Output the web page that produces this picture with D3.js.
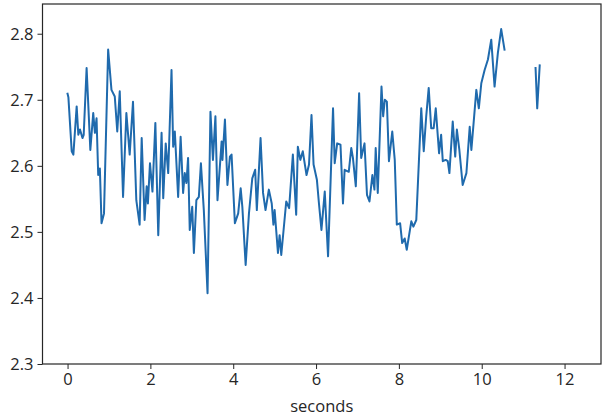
<!DOCTYPE html>
<html><head><meta charset="utf-8">
<script src="https://cdn.jsdelivr.net/npm/d3@7"></script>
<style>
html,body{margin:0;padding:0;background:#fff;}
text{font-family:"Open Sans",sans-serif;fill:#262626;}
</style></head>
<body><svg id="c" width="608" height="420"></svg>
<script>
// time in seconds
const seconds = [0.00,0.02,0.10,0.14,0.22,0.26,0.30,0.36,0.39,0.46,0.55,0.62,0.66,0.70,0.74,0.78,0.82,0.88,0.98,1.06,1.14,1.20,1.26,1.34,1.42,1.50,1.58,1.66,1.74,1.79,1.86,1.91,1.94,1.99,2.05,2.12,2.19,2.27,2.31,2.37,2.43,
2.51,2.55,2.59,2.67,2.73,2.79,2.83,2.87,2.91,2.95,3.01,3.05,3.11,3.17,3.22,3.29,3.38,3.45,3.51,3.57,3.62,3.72,3.74,3.80,3.86,3.92,3.96,4.04,4.12,4.18,4.22,4.30,4.38,4.46,4.53,4.57,4.66,4.72,4.78,4.86,
4.93,4.97,5.00,5.08,5.12,5.16,5.28,5.35,5.44,5.52,5.56,5.62,5.68,5.77,5.83,5.89,5.94,6.02,6.07,6.13,6.21,6.29,6.41,6.45,6.51,6.59,6.65,6.69,6.79,6.85,6.89,6.96,7.04,7.09,
7.17,7.23,7.29,7.36,7.41,7.44,7.49,7.58,7.62,7.66,7.71,7.76,7.84,7.90,7.95,8.03,8.08,8.14,8.19,8.30,8.35,8.42,8.54,8.60,8.66,8.72,8.78,8.84,8.89,8.97,9.02,9.06,9.13,9.18,9.22,9.30,9.36,9.40,9.46,9.54,9.63,9.71,
9.75,9.87,9.93,9.99,10.07,10.15,10.23,10.31,10.39,10.47,10.55,
10.9,
11.30,11.34,11.40];
// signal values (null = gap)
const values = [2.709,2.704,2.622,2.617,2.690,2.647,2.655,2.642,2.647,2.748,2.624,2.680,2.650,2.672,2.586,2.596,2.513,2.528,2.776,2.715,2.705,2.652,2.713,2.553,2.680,2.617,2.697,2.548,2.511,2.642,2.518,2.569,2.543,2.604,2.561,2.665,2.495,2.650,2.551,2.634,2.589,
2.745,2.629,2.652,2.553,2.644,2.559,2.589,2.574,2.612,2.503,2.538,2.468,2.548,2.553,2.604,2.533,2.407,2.682,2.609,2.675,2.548,2.637,2.609,2.670,2.571,2.614,2.617,2.513,2.528,2.566,2.538,2.450,2.528,2.581,2.594,2.533,2.642,2.559,2.533,2.564,
2.543,2.511,2.533,2.468,2.495,2.465,2.546,2.536,2.617,2.526,2.629,2.609,2.622,2.586,2.602,2.677,2.602,2.579,2.543,2.503,2.561,2.463,2.687,2.604,2.634,2.632,2.543,2.594,2.591,2.627,2.612,2.569,2.710,2.612,
2.634,2.556,2.546,2.586,2.564,2.627,2.559,2.720,2.675,2.700,2.697,2.607,2.652,2.609,2.511,2.513,2.483,2.490,2.473,2.516,2.508,2.518,2.687,2.622,2.675,2.718,2.657,2.657,2.687,2.619,2.647,2.607,2.609,2.607,2.589,2.667,2.614,2.655,2.624,2.571,2.589,2.659,
2.624,2.715,2.687,2.725,2.745,2.761,2.791,2.720,2.771,2.807,2.776,
null,
2.748,2.687,2.752];
const xTicks = [0,2,4,6,8,10,12];
const yTicks = [2.3,2.4,2.5,2.6,2.7,2.8];
const xLabel = "seconds";

const L=42.5, R=601, T=4, B=364;
const svg = d3.select("#c");
const x = d3.scaleLinear().domain([-0.605,12.88]).range([L,R]);
const y = d3.scaleLinear().domain([2.3,2.845]).range([B,T]);

const data = seconds.map((s,i)=>({s, v: values[i]}));
const line = d3.line().defined(d=>d.v!=null).x(d=>x(d.s)).y(d=>y(d.v));
svg.append("path").datum(data).attr("d",line)
  .attr("fill","none").attr("stroke","#1f6aad").attr("stroke-width",2).attr("stroke-linejoin","round").attr("stroke-linecap","square");

const xa = svg.append("g").attr("transform",`translate(0,${B})`)
  .call(d3.axisBottom(x).tickValues(xTicks).tickFormat(d3.format("d")).tickSize(5).tickPadding(4));
const ya = svg.append("g").attr("transform",`translate(${L},0)`)
  .call(d3.axisLeft(y).tickValues(yTicks).tickFormat(d3.format(".1f")).tickSize(5).tickPadding(4));
[xa,ya].forEach(g=>{
  g.select(".domain").remove();
  g.selectAll("line").attr("stroke","#262626");
  g.selectAll("text").attr("font-size",16.5).attr("font-family","'Open Sans',sans-serif").attr("fill","#262626");
});
svg.append("rect").attr("x",L).attr("y",T).attr("width",R-L).attr("height",B-T)
  .attr("fill","none").attr("stroke","#262626").attr("stroke-width",1.2);
svg.append("text").attr("x",(L+R)/2).attr("y",412).attr("text-anchor","middle")
  .attr("font-size",16.5).text(xLabel);
</script></body></html>
